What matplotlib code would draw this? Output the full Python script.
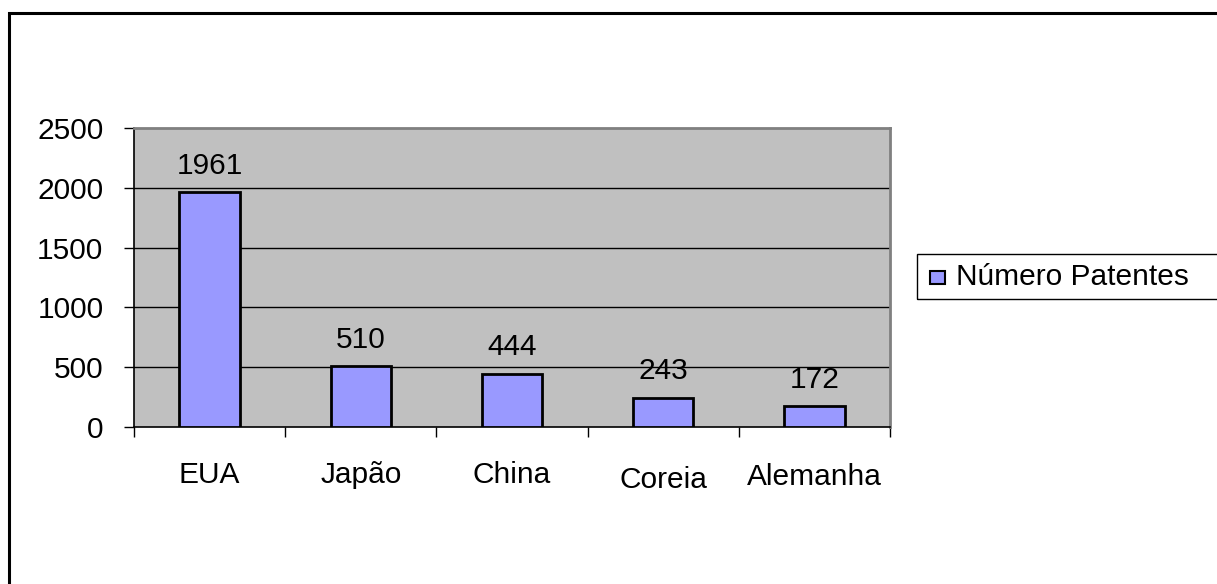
import matplotlib
matplotlib.use("Agg")
import matplotlib.pyplot as plt
import matplotlib.transforms as mtransforms
from matplotlib.patches import Rectangle

plt.rcParams['font.family'] = ['Liberation Sans', 'DejaVu Sans']

paises = ["EUA", "Japão", "China", "Coreia", "Alemanha"]
patentes = [1961, 510, 444, 243, 172]
yticks = [0, 500, 1000, 1500, 2000, 2500]
# a few category labels sit slightly lower than the rest (pixels)
label_drop = [0, 0, 0, 5, 2]
fs = 21.5

W, H = 1217, 584
fig = plt.figure(figsize=(W / 100, H / 100), dpi=100)

# outer chart frame (only top and left edges fall inside the image)
fig.patches.append(Rectangle((9 / W, -0.05), 1.1, 1 - 13 / H + 0.05,
                             transform=fig.transFigure, fill=False,
                             edgecolor="black", linewidth=2.2))

ax = fig.add_axes([134 / W, 1 - 427 / H, (890 - 134) / W, (427 - 128) / H])
ax.set_facecolor("#c0c0c0")

x = range(len(paises))
ax.bar(x, patentes, width=0.4, color="#9999ff", edgecolor="black",
       linewidth=2, zorder=3)
for i, v in enumerate(patentes):
    ax.annotate(str(v), (i, v), xytext=(0, 9), textcoords="offset points",
                ha="center", va="bottom", fontsize=fs)

ax.set_xlim(-0.5, len(paises) - 0.5)
ax.set_ylim(0, 2500)
ax.set_yticks(yticks)
ax.set_yticklabels([str(t) for t in yticks], fontsize=fs)
ax.tick_params(axis="y", length=7, width=1, pad=15)
for t in yticks[1:-1]:
    ax.axhline(t, color="black", linewidth=1, zorder=1)

# category ticks fall between the bars
ax.set_xticks([i - 0.5 for i in range(len(paises) + 1)])
ax.set_xticklabels([])
ax.tick_params(axis="x", length=7, width=1)
for i, nome in enumerate(paises):
    off = mtransforms.ScaledTranslation(0, -label_drop[i] / 100, fig.dpi_scale_trans)
    ax.text(i, -0.115, nome, ha="center", va="top", fontsize=fs,
            transform=mtransforms.blended_transform_factory(ax.transData, ax.transAxes) + off)

for side in ["left", "bottom"]:
    ax.spines[side].set_color("black")
    ax.spines[side].set_linewidth(1.2)
for side in ["top", "right"]:
    ax.spines[side].set_color("#808080")
    ax.spines[side].set_linewidth(2)

# legend box runs off the right edge
fig.patches.append(Rectangle((917 / W, 1 - 299 / H), 0.5, 45 / H,
                             transform=fig.transFigure, fill=False,
                             edgecolor="black", linewidth=1))
fig.patches.append(Rectangle((930 / W, 1 - 284 / H), 15 / W, 13 / H,
                             transform=fig.transFigure, facecolor="#9999ff",
                             edgecolor="black", linewidth=1.5))
fig.text(956 / W, 1 - 277 / H, "Número Patentes", fontsize=fs,
         ha="left", va="center")

fig.savefig("out.png", dpi=100)
